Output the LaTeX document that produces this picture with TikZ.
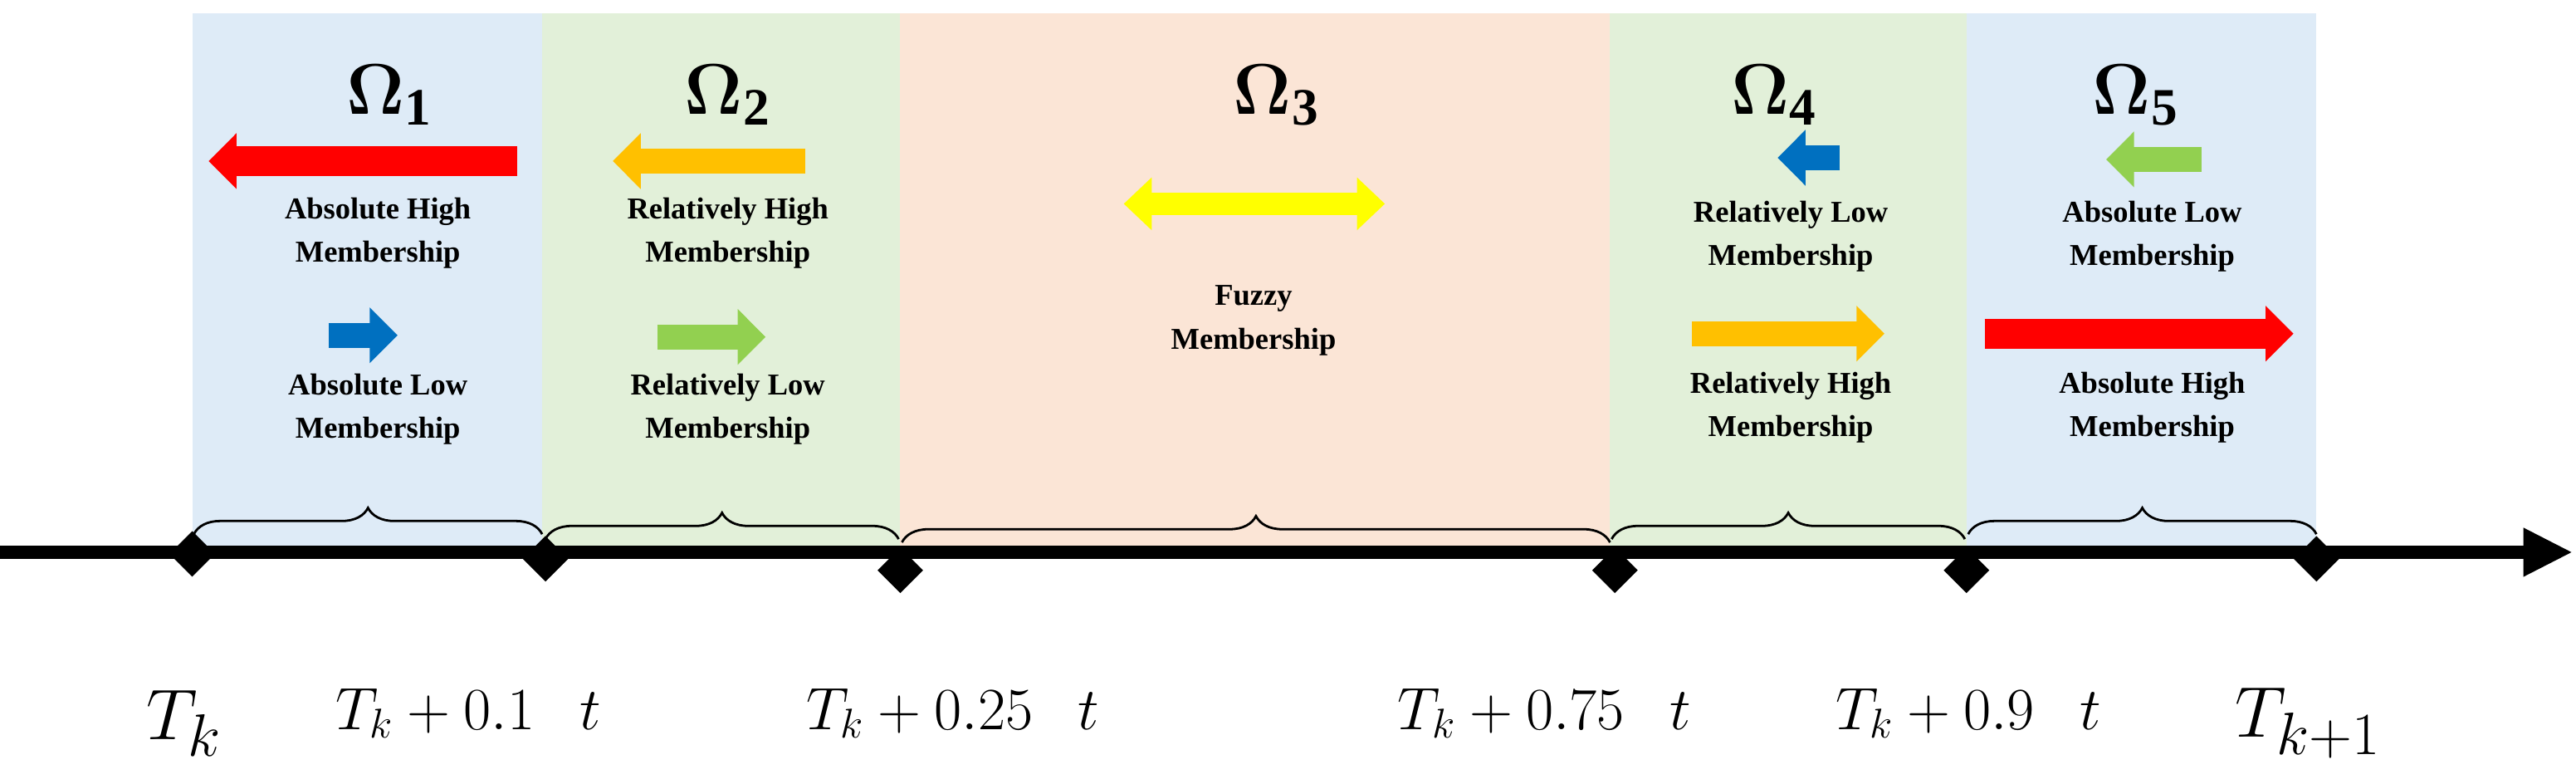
\documentclass[tikz,border=0pt]{standalone}
\usepackage{fontspec}
\setmainfont{Liberation Serif}
\usepackage{amsmath,bm}
\usetikzlibrary{arrows.meta,decorations.pathreplacing,shapes.geometric}
\definecolor{bblue}{RGB}{222,235,247}
\definecolor{bgreen}{RGB}{226,240,217}
\definecolor{bpeach}{RGB}{251,229,214}
\definecolor{aRed}{RGB}{255,0,0}
\definecolor{aOrange}{RGB}{255,192,0}
\definecolor{aBlue}{RGB}{0,112,192}
\definecolor{aGreen}{RGB}{146,208,80}
\definecolor{aYellow}{RGB}{255,255,0}
\begin{document}
\begin{tikzpicture}[x=0.02cm,y=-0.02cm,
  lbl/.style={align=center,font=\fontsize{10.5}{15}\selectfont\bfseries},
  om/.style={font=\fontsize{26}{30}\selectfont},
  tl/.style={font=\fontsize{20}{24}\selectfont},
  dia/.style={diamond,fill=black,inner sep=0pt,minimum size=0.56cm},
  blk/.style={line width=0.36cm,-{Triangle[width=0.66cm,length=0.34cm]}},
  brc/.style={decorate,decoration={brace,amplitude=0.32cm},thick}]
\useasboundingbox (0,0) rectangle (1568,477);
\fill[bblue] (117,8) rectangle (330,335);
\fill[bgreen] (330,8) rectangle (548,335);
\fill[bpeach] (548,8) rectangle (980,335);
\fill[bgreen] (980,8) rectangle (1197,335);
\fill[bblue] (1197,8) rectangle (1410,335);
% axis
\coordinate (a0) at (0,336);
\coordinate (a1) at (1566,336);
\draw[line width=0.17cm,-{Triangle[width=0.55cm,length=0.6cm]}] (a0) -- (a1);
\node[dia] (d0) at (117,337) {};
\node[dia] (d1) at (332,340) {};
\node[dia] (d2) at (548,347) {};
\node[dia] (d3) at (983,347) {};
\node[dia] (d4) at (1197,347) {};
\node[dia] (d5) at (1410,340) {};
% braces
\draw[brc] (118,325) -- (330,325);
\draw[brc] (332,328) -- (547,328);
\draw[brc] (549,330) -- (980,330);
\draw[brc] (981,328) -- (1196,328);
\draw[brc] (1198,325) -- (1410,325);
% omegas
\node[om] (o1) at (237,58) {$\bm{\Omega}_{\mathbf 1}$};
\node[om] (o2) at (443,58) {$\bm{\Omega}_{\mathbf 2}$};
\node[om] (o3) at (777,58) {$\bm{\Omega}_{\mathbf 3}$};
\node[om] (o4) at (1080,58) {$\bm{\Omega}_{\mathbf 4}$};
\node[om] (o5) at (1300,58) {$\bm{\Omega}_{\mathbf 5}$};
% arrows
\draw[blk,aRed] (315,98) -- (127,98);
\draw[blk,aBlue,line width=0.3cm] (200,204) -- (242,204);
\draw[blk,aOrange,line width=0.3cm] (490,98) -- (373,98);
\draw[blk,aGreen,line width=0.3cm] (400,205) -- (466,205);
\draw[aYellow,line width=0.28cm,{Triangle[width=0.62cm,length=0.34cm]}-{Triangle[width=0.62cm,length=0.34cm]}] (684,124) -- (843,124);
\draw[blk,aBlue,line width=0.3cm] (1120,96) -- (1082,96);
\draw[blk,aOrange,line width=0.3cm] (1030,203) -- (1147,203);
\draw[blk,aGreen,line width=0.3cm] (1340,97) -- (1282,97);
\draw[blk,aRed] (1208,203) -- (1396,203);
% labels
\node[lbl] (l1a) at (230,142) {Absolute High\\Membership};
\node[lbl] (l1b) at (230,249) {Absolute Low\\Membership};
\node[lbl] (l2a) at (443,142) {Relatively High\\Membership};
\node[lbl] (l2b) at (443,249) {Relatively Low\\Membership};
\node[lbl] (l3) at (763,195) {Fuzzy\\Membership};
\node[lbl] (l4a) at (1090,144) {Relatively Low\\Membership};
\node[lbl] (l4b) at (1090,248) {Relatively High\\Membership};
\node[lbl] (l5a) at (1310,144) {Absolute Low\\Membership};
\node[lbl] (l5b) at (1310,248) {Absolute High\\Membership};
% time labels
\node[font=\fontsize{32}{36}\selectfont] (t0) at (112,440) {$T_k$};
\node[tl] (t1) at (285,434) {$T_k+0.1\mathit{\Delta} t$};
\node[tl] (t2) at (580,434) {$T_k+0.25\mathit{\Delta} t$};
\node[tl] (t3) at (940,434) {$T_k+0.75\mathit{\Delta} t$};
\node[tl] (t4) at (1198,434) {$T_k+0.9\mathit{\Delta} t$};
\node[font=\fontsize{32}{36}\selectfont] (t5) at (1405,440) {$T_{k+1}$};
\end{tikzpicture}
\end{document}
